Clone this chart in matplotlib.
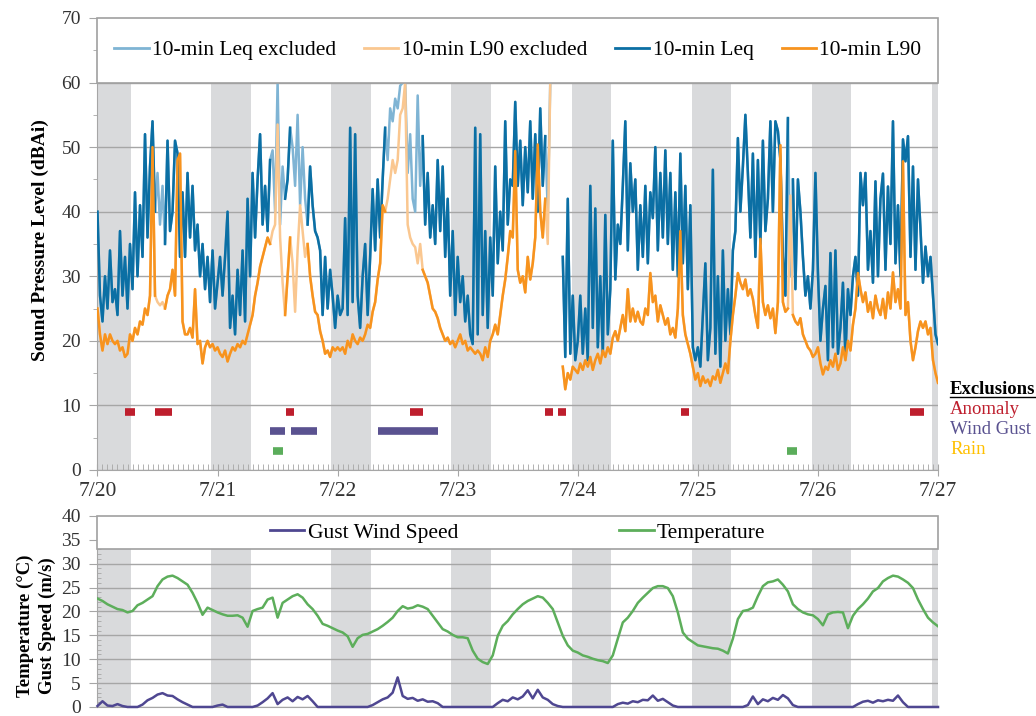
import numpy as np
import matplotlib.pyplot as plt
from matplotlib.lines import Line2D
from matplotlib.patches import Rectangle

nan = np.nan

day_labels = ['7/20', '7/21', '7/22', '7/23', '7/24', '7/25', '7/26', '7/27']

# Sound levels (dBAi), one reading every half hour, 48 per day
leq_0720 = [40, 27, 23, 30, 25, 34, 26, 28, 24, 37, 27, 33, 25, 35, 28, 43, 30, 41, 33, 52, 36, 47, 54, 40,
            46, 38, 44, 35, 51, 37, 40, 51, 49, 33, 43, 33, 46, 36, 44, 34, 38, 30, 35, 28, 33, 26, 34, 25]
leq_0721 = [29, 33, 27, 33, 40, 22, 27, 21, 31, 24, 34, 23, 42, 30, 46, 36, 45, 52, 38, 44, 37, 48, 49.5, 40,
            60, 38, 47, 42, 45, 53, 50, 44, 55, 41, 50, 42, 38, 47, 41, 37, 36, 34, 24, 33, 25, 31, 27, 22]
leq_0722 = [27, 24, 25, 39, 24, 53, 26, 52, 27, 22, 30, 35, 24, 33, 43.5, 34, 45, 36, 45, 53, 48, 56, 54, 57.5,
            56, 59.5, 60, 60, 46, 52, 42, 40, 58, 44, 51.7, 38, 46, 36, 41, 35, 48, 37, 47, 33, 42, 27, 37, 24]
leq_0723 = [33, 26, 30, 23, 27, 21, 19.5, 53, 21, 52, 24, 37, 22, 36, 27, 47, 32, 40, 34, 54, 38, 45, 44, 57,
            44, 51, 41, 50, 43, 54, 42, 52, 40, 56, 44, 51.7, 40, 60, nan, nan, nan, nan, 33, 17.5, 42, 18, 27, 17]
leq_0724 = [20, 27, 18, 25, 17, 44, 22, 40.5, 19, 30, 18, 39.5, 21, 28, 51, 29.5, 38, 35, 44, 54, 34, 47.5, 40, 45,
            31, 41, 33, 44, 32, 43, 39, 50, 34, 46, 36, 49.5, 35, 46, 31, 43, 30, 49, 32, 44, 28, 41, 19, 17]
leq_0725 = [19, 16, 24, 32, 17, 22, 46.5, 18, 30, 16, 34, 20, 28, 21, 34, 37, 51.4, 40, 47, 55, 46, 36, 49, 33,
            48, 35, 51, 37, 42, 54, 40, 54, 52.5, 48, 33, 27, 54.5, 30, 45, 28, 45, 40, 33, 27, 30, 25, 31, 46]
leq_0726 = [30.6, 20, 25, 28.5, 17, 33.6, 19, 34, 18, 22, 29, 17.5, 28, 24, 30, 33, 27, 46, 41, 46, 31, 37, 29, 44.7,
            30, 42, 45.9, 31, 43.9, 35, 54, 32, 41, 30, 51.2, 47.8, 51.7, 33, 47, 31, 45, 37.3, 29, 34.6, 30, 33, 27, 21]
leq_end = 19.5

l90_0720 = [25, 21, 18.5, 21, 19.5, 21, 20, 19.5, 20, 18.5, 19, 17.5, 18, 21, 20, 22, 21, 23, 22.5, 25, 24, 27, 50, 27,
            26, 25.5, 26, 25, 27, 28, 31, 27, 48, 49, 23, 21, 21, 22, 20.5, 28, 19.5, 20, 16.5, 19, 20, 19, 19.5, 18.5]
l90_0721 = [19, 18, 17.5, 18.5, 16.8, 18, 19, 18.5, 19.5, 19, 20, 19.5, 21, 22.5, 24, 27, 29, 31.5, 33, 34.5, 36, 35, 37, 38,
            53.5, 36, 29, 24, 30, 36, 32, 24.5, 34, 41, 37, 33, 35, 30, 27, 24.5, 24, 21.5, 20, 18, 18.5, 17.5, 19, 18.5]
l90_0722 = [19, 18.5, 19, 18, 20, 19, 21, 20, 19.5, 20.5, 20, 21, 22.5, 22, 24.5, 26, 29.5, 32, 41, 40, 42, 45, 48, 46,
            48, 55, 56, 60, 38, 36, 35, 34.5, 32, 35, 31, 30, 29, 27, 25, 24.5, 23.5, 22, 21, 20, 20.5, 19.5, 20, 19]
l90_0723 = [20, 21, 19.5, 20, 18.5, 19, 18.5, 18, 18.5, 18, 17, 19, 17.5, 20, 21, 22.5, 21, 24, 27, 29.5, 33, 37, 36, 49.4,
            31, 29, 30, 27.5, 33, 29.5, 32, 36, 50.4, 40, 36, 42, 35, 60, nan, nan, nan, nan, 16, 12.5, 15, 14, 16, 15.5]
l90_0724 = [15, 16.5, 15.5, 17, 16, 17.5, 15.5, 17, 18, 16.5, 18.5, 17.5, 19, 18, 20.5, 21.5, 20, 22, 24, 21.5, 28, 23, 25, 23,
            24.5, 23, 22.5, 25, 24, 30.5, 26, 27, 23, 25.5, 24, 22.5, 23.5, 21, 22, 20.5, 25, 37, 24, 21, 19.5, 18, 16, 14]
l90_0725 = [15, 13, 14.5, 13.5, 14, 13, 14.5, 14, 15.5, 13.5, 15, 16.5, 15, 20, 24, 27, 30.5, 29, 28, 29.5, 27, 28, 26.5, 24,
            22, 35.8, 26, 24, 25.5, 23.5, 25, 21.2, 26, 50.3, 26, 24.5, 25, 42.5, 24, 23, 22.5, 23.5, 21, 20, 19, 18.5, 17.5, 18]
l90_0726 = [19, 16.5, 14.8, 16, 15.5, 17, 16, 18, 15.5, 16.5, 19, 17, 20, 18.5, 22.5, 25, 30.5, 28, 26, 27.5, 24.5, 26, 23.5, 27,
            25, 24, 26.5, 23.5, 27.5, 25, 30.6, 26, 28, 25, 47.8, 24, 26, 20, 17, 19, 21.5, 23, 22, 23, 21, 22, 17, 15]
l90_end = 13.5

# Hourly weather: temperature (C) and gust wind speed (m/s), 24 per day
temp_0720 = [22.7, 22.2, 21.5, 21.0, 20.5, 20.3, 19.8, 20.1, 21.3, 21.8, 22.5, 23.2,
             25.3, 26.7, 27.3, 27.5, 27.0, 26.3, 25.6, 23.9, 21.8, 19.3, 20.8, 20.3]
temp_0721 = [19.8, 19.4, 19.1, 19.1, 19.2, 18.7, 16.8, 20.1, 20.5, 20.8, 22.5, 22.9,
             18.7, 21.8, 22.5, 23.2, 23.6, 22.9, 21.5, 20.5, 19.1, 17.4, 17.0, 16.5]
temp_0722 = [16.0, 15.6, 14.8, 12.6, 14.4, 15.1, 15.3, 15.8, 16.3, 17.0, 17.8, 18.7,
             20.1, 21.1, 20.6, 20.8, 21.3, 21.0, 20.5, 19.1, 17.7, 16.3, 15.8, 15.1]
temp_0723 = [14.6, 14.6, 14.4, 11.8, 10.1, 9.4, 9.0, 10.8, 14.9, 17.0, 18.0, 19.4,
             20.5, 21.5, 22.2, 22.7, 23.2, 22.9, 21.8, 20.5, 17.7, 14.9, 12.9, 11.8]
temp_0724 = [11.4, 10.8, 10.5, 10.1, 9.8, 9.6, 9.2, 10.8, 14.3, 17.7, 18.7, 20.1,
             21.8, 22.9, 23.9, 24.9, 25.3, 25.3, 24.9, 23.2, 19.8, 15.6, 14.3, 13.6]
temp_0725 = [12.9, 12.7, 12.5, 12.3, 12.2, 11.8, 11.2, 14.3, 18.4, 20.1, 20.3, 20.8,
             23.2, 25.3, 26.1, 26.3, 26.7, 25.6, 24.2, 21.5, 20.5, 19.8, 19.4, 19.2]
temp_0726 = [18.4, 17.1, 19.4, 19.8, 19.9, 19.8, 16.5, 19.1, 20.5, 21.5, 22.7, 24.2,
             24.9, 26.3, 27.0, 27.5, 27.3, 26.7, 26.0, 24.9, 22.5, 20.5, 18.7, 17.7]
temp_end = 16.9

gust_0720 = [0.2, 1.2, 0.3, 0.2, 0.6, 0.2, 0, 0, 0, 0.5, 1.4, 1.9, 2.6, 2.9, 2.4, 2.3, 1.6, 1.0, 0.5, 0, 0, 0, 0, 0]
gust_0721 = [0.3, 0.5, 0, 0, 0, 0, 0, 0, 0.3, 1.0, 1.8, 2.9, 0.6, 1.5, 2.0, 1.2, 2.1, 1.6, 2.3, 1.2, 0, 0, 0, 0]
gust_0722 = [0, 0, 0, 0, 0, 0, 0, 0.4, 1.0, 1.6, 2.0, 3.0, 6.2, 2.3, 1.7, 1.9, 1.3, 1.6, 1.1, 1.2, 0.8, 0, 0, 0]
gust_0723 = [0, 0, 0, 0, 0, 0, 0, 0, 0.8, 1.5, 1.2, 2.0, 1.6, 2.2, 3.5, 1.8, 3.6, 2.0, 1.5, 0.6, 0.2, 0, 0, 0]
gust_0724 = [0, 0, 0, 0, 0, 0, 0, 0, 0.6, 0.9, 0.7, 1.2, 1.0, 1.5, 1.4, 2.4, 1.3, 1.7, 1.0, 0.3, 0, 0, 0, 0]
gust_0725 = [0, 0, 0, 0, 0, 0, 0, 0, 0, 0, 0.4, 2.2, 0.6, 1.6, 1.2, 1.9, 1.5, 2.5, 1.8, 0.4, 0, 0, 0, 0]
gust_0726 = [0, 0, 0, 0, 0, 0, 0, 0, 0.6, 1.1, 1.3, 0.9, 1.4, 1.2, 1.5, 1.3, 2.4, 1.0, 0, 0, 0, 0, 0, 0]
gust_end = 0

# Exclusion periods in days after 7/20 00:00
anomaly_periods = [(0.23, 0.31), (0.48, 0.62), (1.57, 1.635), (2.60, 2.71),
                   (3.73, 3.795), (3.835, 3.90), (4.86, 4.93), (6.77, 6.885)]
wind_gust_periods = [(1.435, 1.56), (1.615, 1.825), (2.335, 2.84)]
rain_periods = [(1.46, 1.545), (5.74, 5.825)]

# Stretches where the sound levels are shown as excluded
sound_excluded_periods = [(0.495, 0.555), (1.44, 1.56), (1.62, 1.74), (2.40, 2.69),
                          (3.74, 3.79), (5.755, 5.79)]

# Night shading (hours of the day)
night_start_h = 22.75
night_end_h = 6.6

plt.rcParams['font.family'] = ['Liberation Serif', 'DejaVu Serif']

leq_c, l90_c = '#0B6FA4', '#F7931E'
leq_ex_c, l90_ex_c = '#7FB4D4', '#FAC790'
temp_c, gust_c = '#5DAE5B', '#4F4791'
anom_c, wind_c, rain_c = '#BE1E2D', '#5A5290', '#5BAD5B'
grid_c, band_c, text_c = '#A6A6A6', '#D9DADC', '#333333'


def in_periods(t, periods):
    hit = np.zeros(len(t), dtype=bool)
    for a, b in periods:
        hit |= (t >= a) & (t <= b)
    return hit


leq = np.array(leq_0720 + leq_0721 + leq_0722 + leq_0723 + leq_0724 + leq_0725 + leq_0726 + [leq_end], dtype=float)
l90 = np.array(l90_0720 + l90_0721 + l90_0722 + l90_0723 + l90_0724 + l90_0725 + l90_0726 + [l90_end], dtype=float)
t_sound = np.arange(len(leq)) / 48.0

temp = np.array(temp_0720 + temp_0721 + temp_0722 + temp_0723 + temp_0724 + temp_0725 + temp_0726 + [temp_end])
gust = np.array(gust_0720 + gust_0721 + gust_0722 + gust_0723 + gust_0724 + gust_0725 + gust_0726 + [gust_end])
t_met = np.arange(len(temp)) / 24.0

excluded = in_periods(t_sound, sound_excluded_periods)
leq_ok = np.where(excluded, nan, leq)
l90_ok = np.where(excluded, nan, l90)

nights = [(0, night_end_h / 24)] + [(d + night_start_h / 24, min(d + 1 + night_end_h / 24, 7)) for d in range(7)]

fig = plt.figure(figsize=(10.36, 7.16), dpi=100)
ax = fig.add_axes([0.0941, 0.3436, 0.8113, 0.6313])
ax2 = fig.add_axes([0.0941, 0.0126, 0.8113, 0.2668])

# ---- sound levels ----
for a, b in nights:
    ax.axvspan(a, b, ymin=0, ymax=60 / 70, color=band_c, lw=0, zorder=0.8)

ax.plot(t_sound, leq, color=leq_ex_c, lw=1.8, zorder=2)
ax.plot(t_sound, l90, color=l90_ex_c, lw=1.8, zorder=2.1)
ax.plot(t_sound, leq_ok, color=leq_c, lw=1.8, zorder=3)
ax.plot(t_sound, l90_ok, color=l90_c, lw=1.8, zorder=3.1)

for periods, y, c in [(anomaly_periods, 9, anom_c), (wind_gust_periods, 6, wind_c), (rain_periods, 3, rain_c)]:
    for a, b in periods:
        ax.plot([a, b], [y, y], color=c, lw=5.5, solid_capstyle='butt', zorder=3.5)

ax.add_patch(Rectangle((0, 60), 7, 10, facecolor='white', edgecolor='#A0A0A0', lw=1.2, zorder=4, clip_on=False))
handles = [Line2D([], [], color=c, lw=2) for c in (leq_ex_c, l90_ex_c, leq_c, l90_c)]
leg = ax.legend(handles, ['10-min Leq excluded', '10-min L90 excluded', '10-min Leq', '10-min L90'],
                loc='center', bbox_to_anchor=(0.5, 65 / 70), ncol=4, frameon=False, fontsize=15.5,
                handlelength=1.6, handletextpad=0.15, columnspacing=1.3)
leg.set_zorder(5)

ax.set_xlim(0, 7)
ax.set_ylim(0, 70)
ax.set_xticks(range(8))
ax.set_xticklabels(day_labels)
ax.set_xticks(np.arange(1, 168) / 24, minor=True)
ax.set_yticks(range(0, 71, 10))
ax.set_yticks(range(5, 70, 10), minor=True)
ax.tick_params(axis='x', which='major', direction='inout', length=9, color=grid_c, labelsize=15.5,
               labelcolor=text_c, pad=4)
ax.tick_params(axis='x', which='minor', direction='in', length=4, color=grid_c)
ax.tick_params(axis='y', which='major', length=6, color=grid_c, labelsize=14, labelcolor=text_c, pad=6)
ax.tick_params(axis='y', which='minor', length=3, color=grid_c)
ax.set_axisbelow('line')
ax.grid(axis='y', which='major', color=grid_c, lw=1)
for s in ('top', 'right'):
    ax.spines[s].set_visible(False)
for s in ('left', 'bottom'):
    ax.spines[s].set_color(grid_c)

fig.text(0.039, 0.665, 'Sound Pressure Level (dBAi)', rotation=90, ha='center', va='center',
         fontsize=14, fontweight='bold')

# exclusion key at the right
ex_x = 950 / 1036
ex_title = fig.text(ex_x, 1 - 390 / 716, 'Exclusions', fontsize=13.5, fontweight='bold', va='center')
fig.text(ex_x, 1 - 410 / 716, 'Anomaly', fontsize=13.5, color=anom_c, va='center')
fig.text(ex_x, 1 - 430 / 716, 'Wind Gust', fontsize=13.5, color=wind_c, va='center')
fig.text(ex_x, 1 - 450 / 716, 'Rain', fontsize=13.5, color='#FFC000', va='center')
fig.canvas.draw()
bb = ex_title.get_window_extent()
W, H = fig.bbox.width, fig.bbox.height
fig.add_artist(Line2D([bb.x0 / W, bb.x1 / W], [(bb.y0 + 1) / H, (bb.y0 + 1) / H],
                      transform=fig.transFigure, color='black', lw=1))

# ---- weather ----
for a, b in nights:
    ax2.axvspan(a, b, ymin=0, ymax=33 / 40, color=band_c, lw=0, zorder=0.8)
ax2.plot(t_met, temp, color=temp_c, lw=1.8, zorder=3)
ax2.plot(t_met, gust, color=gust_c, lw=1.8, zorder=3, clip_on=False)

ax2.add_patch(Rectangle((0, 33), 7, 7, facecolor='white', edgecolor='#A0A0A0', lw=1.2, zorder=4, clip_on=False))
leg2 = ax2.legend([Line2D([], [], color=gust_c, lw=2), Line2D([], [], color=temp_c, lw=2)],
                  ['Gust Wind Speed', 'Temperature'], loc='center', bbox_to_anchor=(0.5, 36.5 / 40),
                  ncol=2, frameon=False, fontsize=15.5, handlelength=1.6, handletextpad=0.15,
                  columnspacing=7.5)
leg2.set_zorder(5)

ax2.set_xlim(0, 7)
ax2.set_ylim(0, 40)
ax2.set_xticks([])
ax2.set_yticks(range(0, 41, 5))
ax2.set_yticks(range(0, 40, 1), minor=True)
ax2.tick_params(axis='y', which='major', length=6, color=grid_c, labelsize=14, labelcolor=text_c, pad=6)
ax2.tick_params(axis='y', which='minor', direction='in', length=3, color=grid_c)
ax2.set_axisbelow('line')
ax2.grid(axis='y', which='major', color=grid_c, lw=1)
for s in ('top', 'right'):
    ax2.spines[s].set_visible(False)
for s in ('left', 'bottom'):
    ax2.spines[s].set_color(grid_c)

fig.text(0.024, 0.126, 'Temperature (°C)', rotation=90, ha='center', va='center', fontsize=13.5, fontweight='bold')
fig.text(0.046, 0.126, 'Gust Speed (m/s)', rotation=90, ha='center', va='center', fontsize=13.5, fontweight='bold')

fig.savefig('out.png', dpi=100)
